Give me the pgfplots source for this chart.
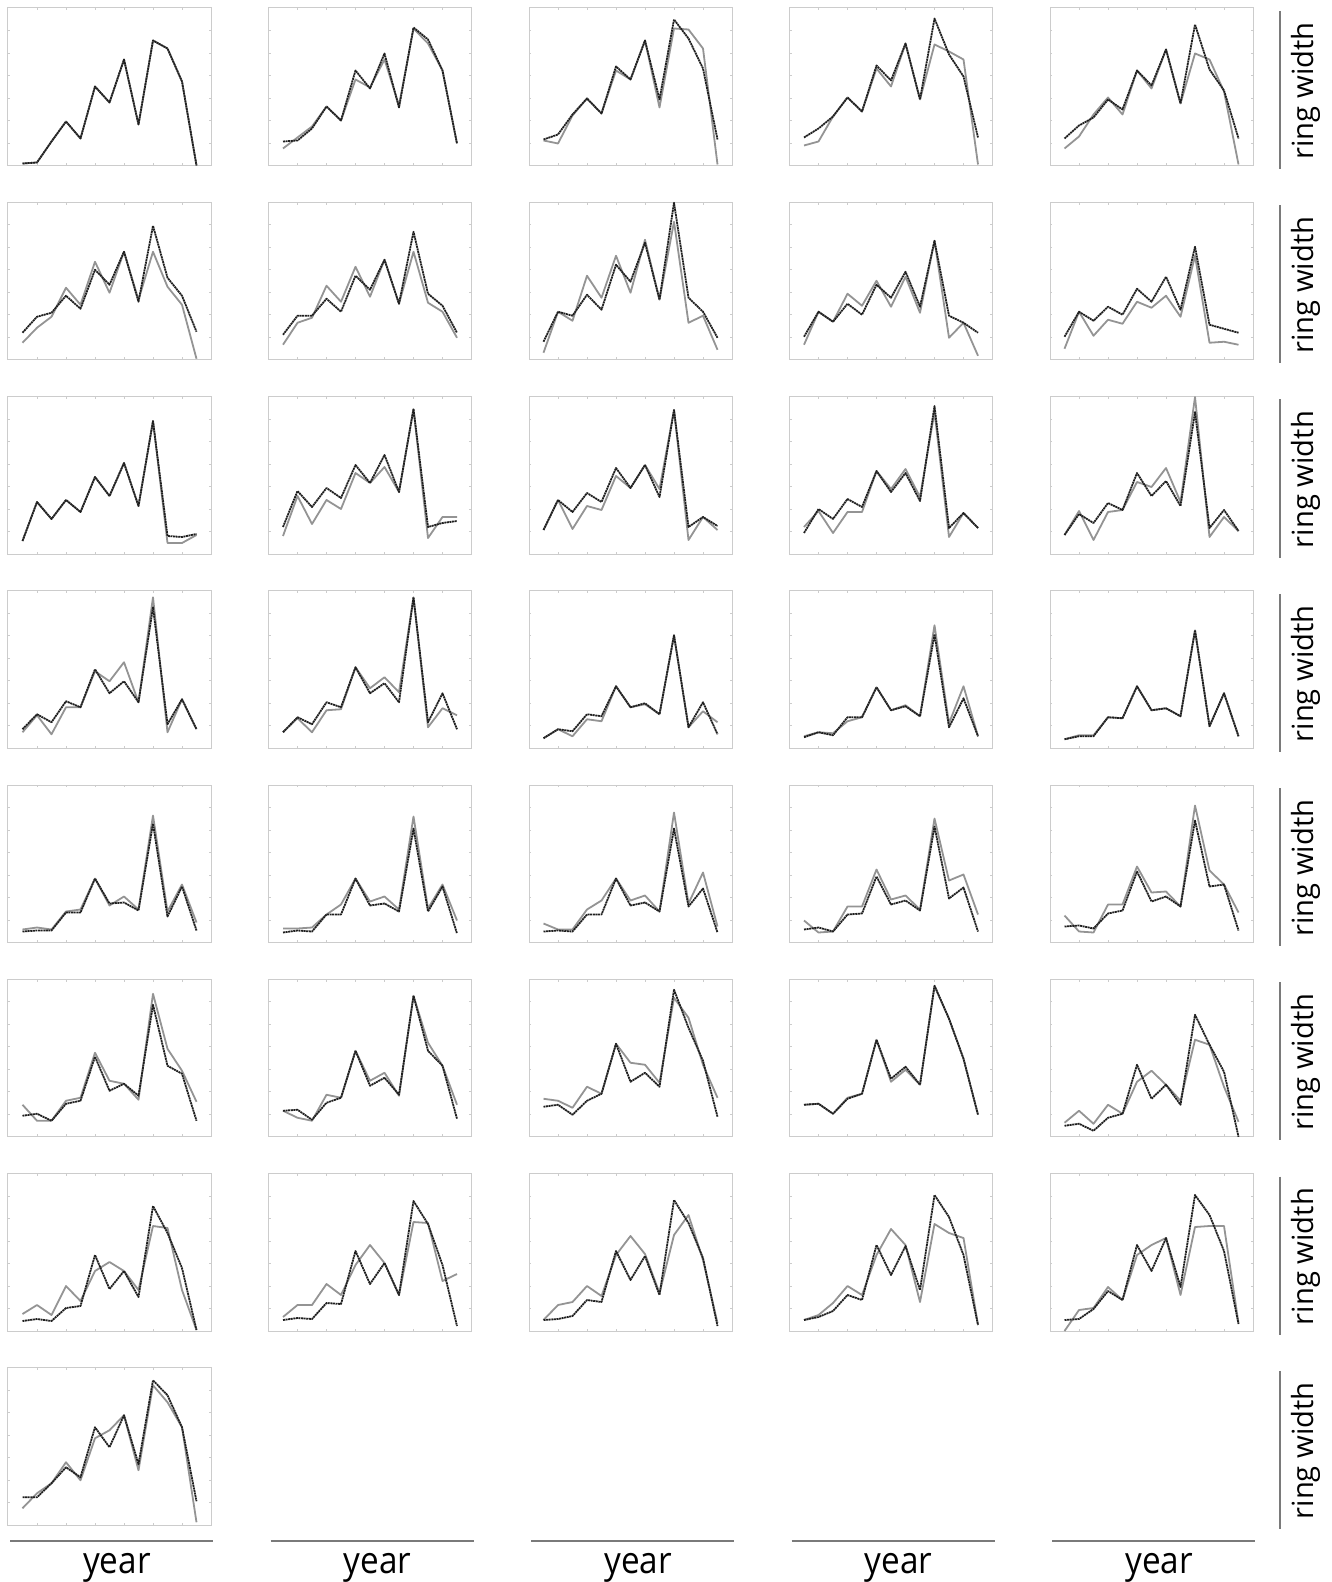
\documentclass[border=0pt]{standalone}
\usepackage{pgfplots}
\pgfplotsset{compat=1.18}
\usepackage{fontspec}
\newfontfamily\labfont{Open Sans}
\definecolor{gl}{gray}{0.58}
\definecolor{frame}{gray}{0.80}
\definecolor{labl}{gray}{0.48}
\pgfplotsset{
  panel/.style={
    scale only axis, width=101.5pt, height=78.75pt,
    xmin=0, xmax=14, ymin=0, ymax=157.5,
    xtick={2,4,...,12}, ytick={22.5,45,67.5,90,112.5,135},
    xticklabels={}, yticklabels={},
    tick align=inside, major tick length=1.2pt,
    tick style={frame, line width=0.4pt},
    axis line style={frame, line width=0.5pt},
    clip=false,
  },
  gline/.style={gl, line width=0.9pt, line join=round, mark=none},
  bline/.style={black!88, line width=0.9pt, line join=round, mark=none, dash pattern=on 1pt off 0.3pt},
}
\newcommand{\panel}[4]{%
  \begin{axis}[panel, at={(#1*130.25pt+4pt,-#2*97.125pt-4pt)}, anchor=north west]
    \addplot[gline] coordinates {#4};
    \addplot[bline] coordinates {#3};
  \end{axis}}
\begin{document}
\begin{tikzpicture}
\useasboundingbox (0,0) rectangle (665.5pt,-791pt);
% row 0
\panel{0}{0}{(1,2)(2,3)(3,24)(4,44)(5,27)(6,79)(7,63)(8,106)(9,41)(10,125)(11,117)(12,84)(13,0)}{(1,2)(2,3)(3,24)(4,44)(5,27)(6,79)(7,63)(8,106)(9,41)(10,125)(11,117)(12,84)(13,0)}
\panel{1}{0}{(1,24)(2,25)(3,37)(4,59)(5,45)(6,95)(7,77)(8,112)(9,58)(10,138)(11,126)(12,95)(13,22)}{(1,17)(2,28)(3,39)(4,59)(5,45)(6,86)(7,78)(8,106)(9,60)(10,137)(11,122)(12,95)(13,22)}
\panel{2}{0}{(1,26)(2,31)(3,51)(4,67)(5,52)(6,99)(7,86)(8,125)(9,66)(10,146)(11,127)(12,97)(13,26)}{(1,25)(2,22)(3,50)(4,67)(5,52)(6,95)(7,86)(8,125)(9,58)(10,137)(11,136)(12,117)(13,1)}
\panel{3}{0}{(1,28)(2,37)(3,49)(4,68)(5,54)(6,100)(7,85)(8,122)(9,66)(10,147)(11,111)(12,89)(13,28)}{(1,20)(2,24)(3,49)(4,68)(5,54)(6,97)(7,79)(8,122)(9,66)(10,121)(11,114)(12,106)(13,1)}
\panel{4}{0}{(1,27)(2,40)(3,48)(4,66)(5,56)(6,95)(7,80)(8,116)(9,62)(10,141)(11,96)(12,75)(13,27)}{(1,17)(2,29)(3,51)(4,68)(5,51)(6,95)(7,77)(8,116)(9,62)(10,112)(11,106)(12,74)(13,1)}
% row 1
\panel{0}{1}{(1,27)(2,43)(3,47)(4,64)(5,51)(6,90)(7,75)(8,108)(9,58)(10,134)(11,82)(12,64)(13,28)}{(1,17)(2,32)(3,43)(4,72)(5,55)(6,98)(7,67)(8,108)(9,60)(10,108)(11,73)(12,55)(13,1)}
\panel{1}{1}{(1,25)(2,44)(3,44)(4,61)(5,48)(6,84)(7,70)(8,100)(9,56)(10,128)(11,66)(12,54)(13,27)}{(1,15)(2,37)(3,42)(4,74)(5,58)(6,93)(7,63)(8,100)(9,56)(10,108)(11,57)(12,48)(13,22)}
\panel{2}{1}{(1,18)(2,48)(3,44)(4,65)(5,50)(6,95)(7,78)(8,117)(9,60)(10,157)(11,62)(12,48)(13,22)}{(1,7)(2,48)(3,39)(4,84)(5,62)(6,104)(7,67)(8,120)(9,60)(10,138)(11,37)(12,44)(13,10)}
\panel{3}{1}{(1,23)(2,48)(3,38)(4,56)(5,45)(6,75)(7,62)(8,88)(9,53)(10,119)(11,44)(12,37)(13,27)}{(1,15)(2,48)(3,38)(4,66)(5,54)(6,79)(7,53)(8,83)(9,47)(10,119)(11,22)(12,37)(13,4)}
\panel{4}{1}{(1,23)(2,48)(3,39)(4,53)(5,45)(6,71)(7,58)(8,83)(9,50)(10,113)(11,35)(12,31)(13,27)}{(1,11)(2,48)(3,24)(4,40)(5,36)(6,58)(7,52)(8,64)(9,43)(10,104)(11,17)(12,18)(13,15)}
% row 2
\panel{0}{2}{(1,13)(2,52)(3,35)(4,54)(5,42)(6,77)(7,58)(8,91)(9,48)(10,133)(11,18)(12,17)(13,20)}{(1,13)(2,52)(3,35)(4,54)(5,42)(6,77)(7,58)(8,91)(9,48)(10,133)(11,11)(12,11)(13,19)}
\panel{1}{2}{(1,27)(2,63)(3,47)(4,66)(5,56)(6,89)(7,71)(8,99)(9,62)(10,145)(11,27)(12,31)(13,33)}{(1,18)(2,58)(3,30)(4,54)(5,45)(6,81)(7,71)(8,87)(9,62)(10,145)(11,16)(12,37)(13,37)}
\panel{2}{2}{(1,24)(2,54)(3,42)(4,61)(5,52)(6,86)(7,66)(8,89)(9,57)(10,144)(11,27)(12,37)(13,28)}{(1,24)(2,54)(3,25)(4,48)(5,44)(6,78)(7,66)(8,89)(9,65)(10,144)(11,14)(12,37)(13,24)}
\panel{3}{2}{(1,21)(2,45)(3,35)(4,55)(5,47)(6,83)(7,62)(8,81)(9,53)(10,148)(11,26)(12,41)(13,26)}{(1,27)(2,43)(3,21)(4,42)(5,42)(6,83)(7,65)(8,85)(9,57)(10,142)(11,17)(12,41)(13,26)}
\panel{4}{2}{(1,19)(2,40)(3,31)(4,51)(5,44)(6,81)(7,58)(8,73)(9,48)(10,142)(11,26)(12,44)(13,23)}{(1,19)(2,43)(3,14)(4,42)(5,44)(6,72)(7,67)(8,86)(9,52)(10,157)(11,17)(12,37)(13,23)}
% row 3
\panel{0}{3}{(1,19)(2,34)(3,26)(4,47)(5,41)(6,79)(7,55)(8,67)(9,46)(10,141)(11,24)(12,49)(13,19)}{(1,16)(2,33)(3,14)(4,41)(5,41)(6,77)(7,67)(8,86)(9,46)(10,151)(11,16)(12,49)(13,19)}
\panel{1}{3}{(1,16)(2,31)(3,24)(4,46)(5,41)(6,81)(7,55)(8,65)(9,46)(10,151)(11,26)(12,55)(13,19)}{(1,16)(2,30)(3,16)(4,38)(5,39)(6,81)(7,60)(8,71)(9,56)(10,151)(11,21)(12,40)(13,33)}
\panel{2}{3}{(1,10)(2,19)(3,17)(4,34)(5,32)(6,62)(7,41)(8,45)(9,34)(10,113)(11,21)(12,46)(13,14)}{(1,10)(2,19)(3,12)(4,29)(5,27)(6,62)(7,41)(8,44)(9,34)(10,113)(11,21)(12,37)(13,26)}
\panel{3}{3}{(1,11)(2,16)(3,13)(4,31)(5,31)(6,61)(7,38)(8,42)(9,32)(10,114)(11,21)(12,50)(13,12)}{(1,12)(2,16)(3,15)(4,27)(5,31)(6,61)(7,38)(8,43)(9,32)(10,123)(11,25)(12,62)(13,12)}
\panel{4}{3}{(1,9)(2,12)(3,12)(4,31)(5,30)(6,62)(7,38)(8,40)(9,32)(10,118)(11,22)(12,55)(13,12)}{(1,9)(2,13)(3,13)(4,31)(5,30)(6,62)(7,38)(8,40)(9,32)(10,118)(11,22)(12,55)(13,12)}
% row 4
\panel{0}{4}{(1,11)(2,12)(3,12)(4,30)(5,30)(6,64)(7,39)(8,40)(9,32)(10,119)(11,26)(12,56)(13,12)}{(1,13)(2,15)(3,13)(4,31)(5,33)(6,64)(7,37)(8,46)(9,33)(10,127)(11,31)(12,58)(13,20)}
\panel{1}{4}{(1,10)(2,12)(3,11)(4,28)(5,28)(6,64)(7,37)(8,39)(9,31)(10,114)(11,31)(12,56)(13,9)}{(1,14)(2,14)(3,15)(4,28)(5,38)(6,64)(7,41)(8,46)(9,33)(10,126)(11,34)(12,58)(13,22)}
\panel{2}{4}{(1,11)(2,12)(3,11)(4,28)(5,28)(6,64)(7,37)(8,40)(9,31)(10,114)(11,36)(12,54)(13,10)}{(1,19)(2,13)(3,13)(4,33)(5,42)(6,64)(7,42)(8,47)(9,31)(10,130)(11,39)(12,70)(13,16)}
\panel{3}{4}{(1,13)(2,15)(3,11)(4,28)(5,29)(6,66)(7,38)(8,42)(9,32)(10,116)(11,44)(12,55)(13,11)}{(1,22)(2,10)(3,11)(4,36)(5,36)(6,73)(7,43)(8,47)(9,33)(10,124)(11,62)(12,68)(13,28)}
\panel{4}{4}{(1,16)(2,17)(3,14)(4,29)(5,32)(6,71)(7,41)(8,46)(9,36)(10,122)(11,56)(12,58)(13,12)}{(1,27)(2,11)(3,10)(4,38)(5,38)(6,76)(7,50)(8,51)(9,36)(10,137)(11,72)(12,58)(13,30)}
% row 5
\panel{0}{5}{(1,21)(2,23)(3,16)(4,33)(5,36)(6,80)(7,46)(8,53)(9,41)(10,132)(11,71)(12,63)(13,16)}{(1,32)(2,16)(3,16)(4,36)(5,39)(6,84)(7,56)(8,53)(9,37)(10,143)(11,88)(12,66)(13,35)}
\panel{1}{5}{(1,26)(2,27)(3,17)(4,34)(5,39)(6,86)(7,51)(8,59)(9,42)(10,141)(11,86)(12,71)(13,18)}{(1,26)(2,19)(3,16)(4,42)(5,39)(6,86)(7,56)(8,64)(9,41)(10,141)(11,94)(12,71)(13,32)}
\panel{2}{5}{(1,30)(2,32)(3,22)(4,36)(5,43)(6,93)(7,55)(8,64)(9,50)(10,147)(11,109)(12,76)(13,20)}{(1,38)(2,36)(3,29)(4,50)(5,43)(6,93)(7,74)(8,72)(9,54)(10,139)(11,119)(12,72)(13,39)}
\panel{3}{5}{(1,32)(2,33)(3,23)(4,38)(5,43)(6,97)(7,58)(8,70)(9,52)(10,151)(11,118)(12,78)(13,22)}{(1,32)(2,33)(3,23)(4,39)(5,43)(6,97)(7,55)(8,67)(9,52)(10,151)(11,118)(12,78)(13,22)}
\panel{4}{5}{(1,11)(2,13)(3,6)(4,19)(5,23)(6,72)(7,38)(8,52)(9,32)(10,122)(11,92)(12,65)(13,0)}{(1,14)(2,26)(3,13)(4,32)(5,23)(6,55)(7,66)(8,52)(9,36)(10,97)(11,92)(12,50)(13,15)}
% row 6
\panel{0}{6}{(1,10)(2,12)(3,10)(4,23)(5,25)(6,76)(7,42)(8,60)(9,34)(10,125)(11,98)(12,63)(13,1)}{(1,17)(2,26)(3,16)(4,45)(5,30)(6,60)(7,69)(8,60)(9,41)(10,105)(11,103)(12,41)(13,1)}
\panel{1}{6}{(1,11)(2,13)(3,12)(4,28)(5,27)(6,80)(7,47)(8,68)(9,36)(10,130)(11,107)(12,66)(13,5)}{(1,14)(2,26)(3,26)(4,47)(5,36)(6,66)(7,86)(8,68)(9,36)(10,109)(11,108)(12,50)(13,57)}
\panel{2}{6}{(1,11)(2,12)(3,15)(4,31)(5,29)(6,80)(7,51)(8,75)(9,36)(10,131)(11,108)(12,73)(13,5)}{(1,11)(2,26)(3,29)(4,45)(5,35)(6,76)(7,95)(8,77)(9,38)(10,96)(11,116)(12,71)(13,8)}
\panel{3}{6}{(1,11)(2,14)(3,20)(4,36)(5,31)(6,86)(7,56)(8,85)(9,41)(10,136)(11,114)(12,76)(13,6)}{(1,11)(2,16)(3,28)(4,45)(5,36)(6,76)(7,102)(8,86)(9,29)(10,107)(11,98)(12,93)(13,6)}
\panel{4}{6}{(1,11)(2,12)(3,22)(4,40)(5,31)(6,86)(7,60)(8,93)(9,44)(10,136)(11,116)(12,80)(13,7)}{(1,0)(2,21)(3,23)(4,44)(5,31)(6,76)(7,86)(8,93)(9,36)(10,104)(11,105)(12,105)(13,8)}
% row 7
\panel{0}{7}{(1,28)(2,28)(3,42)(4,58)(5,48)(6,98)(7,78)(8,110)(9,61)(10,145)(11,130)(12,98)(13,24)}{(1,17)(2,32)(3,42)(4,63)(5,45)(6,87)(7,95)(8,110)(9,55)(10,140)(11,123)(12,98)(13,3)}
% labels
\foreach \c in {0,...,4} {
  \draw[labl, line width=1.2pt] ({\c*130.25pt+5pt},-770.5pt) -- ({\c*130.25pt+106.5pt},-770.5pt);
  \node[anchor=base, inner sep=0pt] at ({\c*130.25pt+58.5pt},-786.5pt) {\labfont\fontsize{18.5}{18.5}\selectfont\scalebox{0.9}[1]{year}};
}
\foreach \r in {0,...,7} {
  \draw[labl, line width=1.2pt] (640pt,{-\r*97.125pt-5.5pt}) -- (640pt,{-\r*97.125pt-84.5pt});
  \node[rotate=90, anchor=base, inner sep=0pt] at (656.5pt,{-\r*97.125pt-45.5pt}) {\labfont\fontsize{14.6}{14.6}\selectfont ring width};
}
\end{tikzpicture}
\end{document}
